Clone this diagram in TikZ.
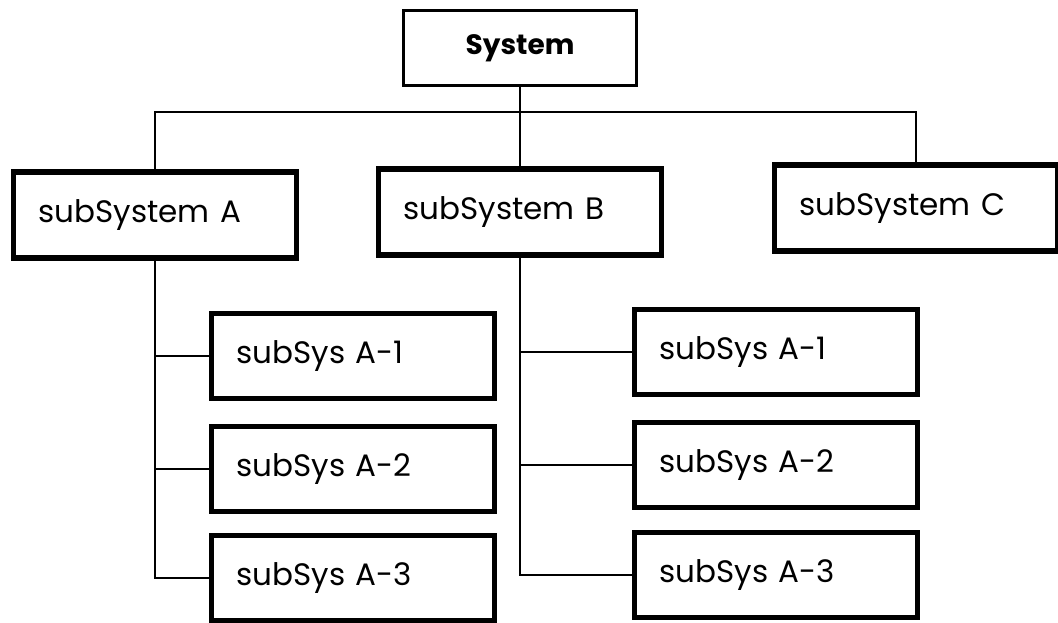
\documentclass[tikz,border=0pt]{standalone}
\usepackage{fontspec}
\setmainfont{Poppins}
\usepackage{tikz}
\usetikzlibrary{calc}
\usetikzlibrary{positioning}
\tikzset{
	every path/.style={line width=2pt},
	sysbox/.style={
		draw,
		rectangle,
		line width=2.5pt,
		minimum width=233pt,
		minimum height=75pt,
		font=\fontsize{28}{32}\selectfont\bfseries,
	},
	subbox/.style={
		draw,
		rectangle,
		line width=5.5pt,
		minimum height=86pt,
		inner xsep=25pt,
		text width=233pt,
		align=left,
		font=\fontsize{31}{36}\selectfont,
	},
	leafbox/.style={
		subbox,
		minimum height=85pt,
	},
}

\begin{document}
\begin{tikzpicture}[x=1pt,y=-1pt]
		\useasboundingbox (0,0) rectangle (1058,622);

		\node[sysbox] (Sys) at (520,48) {System};

		\node[subbox] (A) at (155,215) {subSystem A};
		\node[subbox] (B) at (520,212) {subSystem B};
		\node[subbox] (C) at (916,208) {subSystem C};

		\node[leafbox] (A1) at (353,356) {subSys A-1};
		\node[leafbox] (A2) at (353,469) {subSys A-2};
		\node[leafbox] (A3) at (353,578) {subSys A-3};

		\node[leafbox] (B1) at (776,352) {subSys A-1};
		\node[leafbox] (B2) at (776,465) {subSys A-2};
		\node[leafbox] (B3) at (776,575) {subSys A-3};

		\coordinate (bar) at (520,112);

		\draw (Sys.south) -- (B.north);
		\draw (A.north) |- (bar) -| (C.north);

		\draw (A.south) |- (A1.west);
		\draw (A.south) |- (A2.west);
		\draw (A.south) |- (A3.west);
		\draw (B.south) |- (B1.west);
		\draw (B.south) |- (B2.west);
		\draw (B.south) |- (B3.west);

	\end{tikzpicture}
\end{document}
